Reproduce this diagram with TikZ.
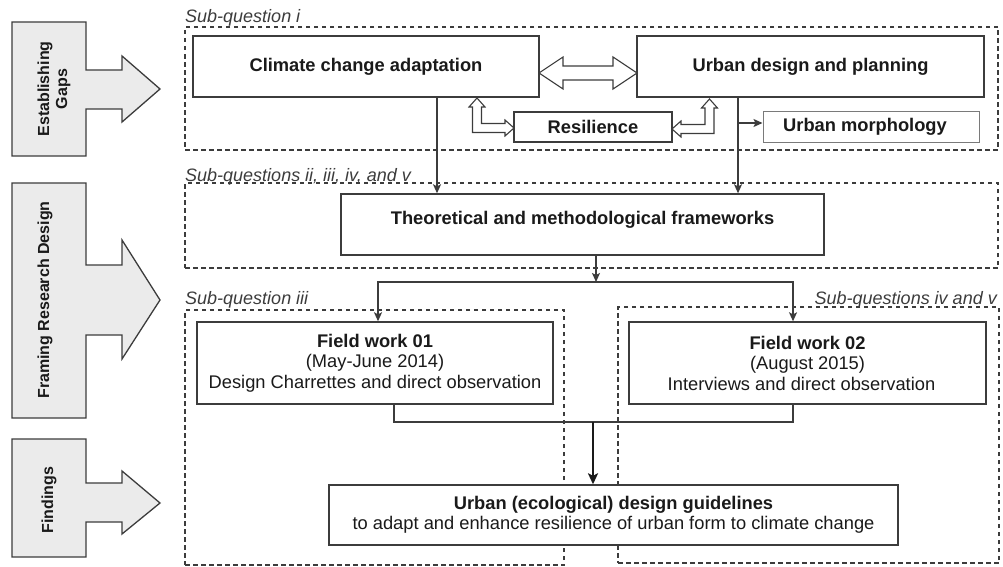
\documentclass[tikz,border=0pt]{standalone}
\usepackage{fontspec}
\setmainfont{Liberation Sans}
\usetikzlibrary{arrows.meta,calc}
\definecolor{edge}{HTML}{3C3C3C}
\definecolor{panel}{HTML}{EBEBEB}
\definecolor{ink}{HTML}{1A1A1A}
\definecolor{soft}{HTML}{7A7A7A}

\begin{document}
\begin{tikzpicture}[x=1pt,y=-1pt,
  every node/.style={text=ink},
  box/.style={draw=edge,line width=1.4pt,fill=white,inner sep=0pt,
    font=\fontsize{18.3}{20.5}\selectfont,align=center},
  grp/.style={draw=edge,line width=1.2pt,dash pattern=on 4.5pt off 3.5pt,inner sep=0pt},
  lbl/.style={font=\fontsize{18}{20}\selectfont\itshape,text=edge,inner sep=0pt},
  side/.style={draw=edge,line width=1.3pt,fill=panel,line join=miter},
  sidetext/.style={font=\fontsize{16}{18}\selectfont\bfseries,rotate=90,align=center,inner sep=0pt},
  hollow/.style={draw=edge,line width=1.1pt,fill=white,line join=miter},
  conn/.style={draw=edge,line width=1.3pt},
  arr/.style={conn,-{Stealth[length=9pt,width=8pt,inset=2pt]}},
  bigarr/.style={draw=ink,line width=2.2pt,-{Stealth[length=11pt,width=10pt,inset=2.5pt]}}
]
\useasboundingbox (0,0) rectangle (1003,567);

% stage markers on the left
\draw[side] (12,22) -- (86,22) -- (86,70) -- (122,70) -- (122,56) -- (160,89)
  -- (122,122) -- (122,109) -- (86,109) -- (86,156) -- (12,156) -- cycle;
\node[sidetext] (s1) at (54,89) {Establishing\\Gaps};

\draw[side] (12,183) -- (86,183) -- (86,265) -- (122,265) -- (122,240) -- (160,300)
  -- (122,359) -- (122,335) -- (86,335) -- (86,418) -- (12,418) -- cycle;
\node[sidetext] (s2) at (45,300) {Framing Research Design};

\draw[side] (12,439) -- (86,439) -- (86,483) -- (122,483) -- (122,471) -- (160,503)
  -- (122,534) -- (122,522) -- (86,522) -- (86,557) -- (12,557) -- cycle;
\node[sidetext] (s3) at (49,500) {Findings};

% dashed groups with their sub-question labels
\node[grp,minimum width=813,minimum height=123] (g1) at (591.5,88.5) {};
\node[grp,minimum width=813,minimum height=85] (g2) at (591.5,225.5) {};
\node[grp,minimum width=379,minimum height=255] (g3) at (374.5,437.5) {};
\node[grp,minimum width=381,minimum height=256] (g4) at (808.5,435) {};

\node[lbl,anchor=base west] (l1) at (185,23) {Sub-question i};
\node[lbl,anchor=base west] (l2) at (185,181) {Sub-questions ii, iii, iv, and v};
\node[lbl,anchor=base west] (l3) at (185,304) {Sub-question iii};
\node[lbl,anchor=base east] (l4) at (997,304) {Sub-questions iv and v};

% boxes
\node[box,minimum width=346,minimum height=61,font=\fontsize{18.3}{20.5}\selectfont\bfseries]
  (cca) at (366,66.5) {Climate change adaptation};
\node[box,minimum width=347,minimum height=61,font=\fontsize{18.3}{20.5}\selectfont\bfseries]
  (udp) at (810.5,66.5) {Urban design and planning};
\node[box,minimum width=158,minimum height=30,font=\fontsize{18.3}{20.5}\selectfont\bfseries]
  (res) at (593,127) {Resilience};
\node[box,draw=soft,line width=1pt,minimum width=216,minimum height=30,
  font=\fontsize{18.3}{20.5}\selectfont\bfseries] (um) at (871,127) {Urban morphology\hspace*{12pt}};
\node[box,minimum width=483,minimum height=61,text height=13.4pt,text depth=14.4pt,
  font=\fontsize{18.3}{20.5}\selectfont\bfseries]
  (th) at (582.5,224.5) {Theoretical and methodological frameworks};
\node[box,minimum width=356,minimum height=82] (f1) at (375,363)
  {\textbf{Field work 01}\\(May-June 2014)\\Design Charrettes and direct observation};
\node[box,minimum width=357,minimum height=82] (f2) at (807.5,363)
  {\textbf{Field work 02}\\(August 2015)\\Interviews and direct observation\hspace*{12pt}};
\node[box,minimum width=569,minimum height=60] (gl) at (613.5,515)
  {\textbf{Urban (ecological) design guidelines}\\
   to adapt and enhance resilience of urban form to climate change};

% two-way link between the two fields
\coordinate (da) at (539,73);
\coordinate (db) at (637,73);
\draw[hollow] (da) -- ($(da)+(24,-16)$) -- ($(da)+(24,-7)$) -- ($(db)+(-24,-7)$)
  -- ($(db)+(-24,-16)$) -- (db) -- ($(db)+(-24,16)$) -- ($(db)+(-24,7)$)
  -- ($(da)+(24,7)$) -- ($(da)+(24,16)$) -- cycle;

% two-way links to resilience
\draw[hollow] (477,98) -- (485,107) -- (481.5,107) -- (481.5,123.5) -- (505,123.5)
  -- (505,120) -- (514,128) -- (505,136) -- (505,132.5) -- (472.5,132.5)
  -- (472.5,107) -- (469,107) -- cycle;
\draw[hollow] (672,129) -- (681,121) -- (681,124.5) -- (705,124.5) -- (705,108)
  -- (701.5,108) -- (709.5,99) -- (717.5,108) -- (714,108) -- (714,133.5)
  -- (681,133.5) -- (681,137) -- cycle;

% flow into the frameworks
\coordinate (cx) at ([xshift=71pt]cca.south);
\coordinate (ux) at ([xshift=-72.5pt]udp.south);
\draw[arr] (cx) -- (cx |- th.north);
\draw[arr] (ux) -- (ux |- th.north);
\draw[arr] ([yshift=4pt]um.west -| ux) -- ([yshift=4pt]um.west);

% split towards the two field works
\coordinate (sx) at ([xshift=13.5pt]th.south);
\coordinate (split) at (596,282);
\draw[arr] (sx) -- (split);
\draw[arr] (split) -| ([xshift=3pt]f1.north);
\draw[arr] (split) -| ([xshift=-14.5pt]f2.north);

% merge into the guidelines
\coordinate (m) at (593,422);
\draw[conn] ([xshift=19pt]f1.south) |- (m) -| ([xshift=-14.5pt]f2.south);
\draw[bigarr] (m) -- (m |- gl.north);
\end{tikzpicture}
\end{document}
